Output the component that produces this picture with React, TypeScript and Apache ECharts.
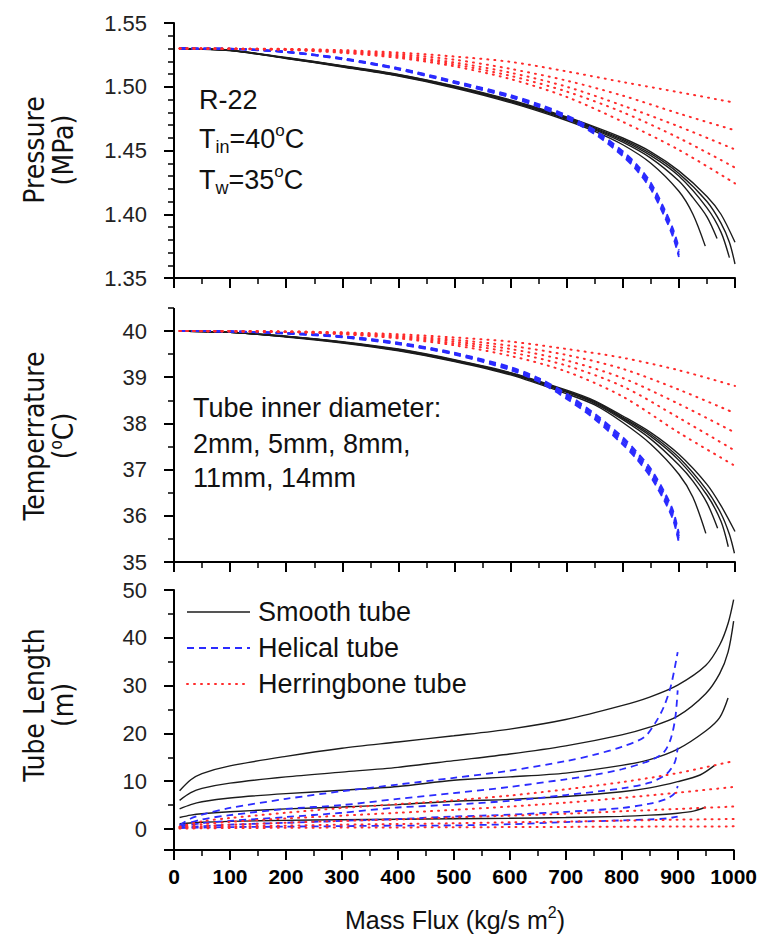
import React, { useEffect, useRef } from "react";
import * as echarts from "echarts";

type Pt = [number, number];

// ---------- Pressure (MPa) ----------
const smoothPressure1: Pt[] = [[10,1.530],[100,1.5283],[200,1.5222],[300,1.5155],[400,1.5083],[500,1.4990],[600,1.4875],[700,1.4735],[750,1.4650],[800,1.4545],[850,1.4400],[900,1.4180],[925,1.4000],[947,1.3750]];
const smoothPressure2: Pt[] = [[10,1.530],[100,1.5284],[200,1.5224],[300,1.5158],[400,1.5087],[500,1.4995],[600,1.4882],[700,1.4745],[750,1.4662],[800,1.4565],[850,1.4440],[900,1.4260],[925,1.4130],[950,1.3980],[968,1.3810]];
const smoothPressure3: Pt[] = [[10,1.530],[100,1.5285],[200,1.5226],[300,1.5161],[400,1.5091],[500,1.4999],[600,1.4887],[700,1.4752],[750,1.4670],[800,1.4578],[850,1.4460],[900,1.4300],[950,1.4050],[975,1.3860],[990,1.3660]];
const smoothPressure4: Pt[] = [[10,1.530],[100,1.5286],[200,1.5227],[300,1.5163],[400,1.5094],[500,1.5002],[600,1.4891],[700,1.4757],[750,1.4677],[800,1.4588],[850,1.4475],[900,1.4320],[950,1.4100],[975,1.3930],[990,1.3780],[1000,1.3610]];
const smoothPressure5: Pt[] = [[10,1.530],[100,1.5287],[200,1.5229],[300,1.5166],[400,1.5097],[500,1.5006],[600,1.4896],[700,1.4763],[750,1.4685],[800,1.4598],[850,1.4490],[900,1.4340],[950,1.4140],[975,1.4000],[1000,1.3780]];

const helicalPressure1: Pt[] = [[10,1.530],[100,1.5297],[200,1.5272],[300,1.5218],[400,1.5138],[500,1.5032],[600,1.4920],[650,1.4847],[700,1.4757],[750,1.4637],[800,1.4465],[825,1.4355],[850,1.4210],[875,1.3990],[890,1.3830],[900,1.3680]];
const helicalPressure2: Pt[] = [[10,1.530],[100,1.5296],[200,1.5270],[300,1.5215],[400,1.5135],[500,1.5029],[600,1.4916],[650,1.4842],[700,1.4750],[750,1.4628],[800,1.4455],[825,1.4343],[850,1.4195],[875,1.3975],[890,1.3815],[900,1.3665]];
const helicalPressure3: Pt[] = [[10,1.530],[100,1.5297],[200,1.5273],[300,1.5220],[400,1.5141],[500,1.5036],[600,1.4925],[650,1.4852],[700,1.4763],[750,1.4645],[800,1.4475],[825,1.4366],[850,1.4222],[875,1.4005],[890,1.3848],[900,1.3700]];
const helicalPressure4: Pt[] = [[10,1.530],[100,1.5298],[200,1.5274],[300,1.5222],[400,1.5144],[500,1.5040],[600,1.4930],[650,1.4858],[700,1.4770],[750,1.4653],[800,1.4485],[825,1.4378],[850,1.4235],[875,1.4020],[890,1.3865],[900,1.3720]];
const helicalPressure5: Pt[] = [[10,1.530],[100,1.5298],[200,1.5275],[300,1.5224],[400,1.5147],[500,1.5044],[600,1.4935],[650,1.4864],[700,1.4777],[750,1.4661],[800,1.4495],[825,1.4390],[850,1.4248],[875,1.4035],[890,1.3880],[900,1.3740]];

const herringPressure1: Pt[] = [[10,1.5300],[200,1.5297],[300,1.5287],[400,1.5268],[500,1.5237],[600,1.5195],[700,1.5120],[800,1.5037],[900,1.4957],[1000,1.4875]];
const herringPressure2: Pt[] = [[10,1.5300],[200,1.5295],[300,1.5281],[400,1.5256],[500,1.5212],[600,1.5140],[700,1.5048],[800,1.4930],[900,1.4790],[1000,1.4658]];
const herringPressure3: Pt[] = [[10,1.5300],[200,1.5293],[300,1.5276],[400,1.5245],[500,1.5190],[600,1.5110],[700,1.5000],[800,1.4852],[900,1.4688],[1000,1.4508]];
const herringPressure4: Pt[] = [[10,1.5300],[200,1.5291],[300,1.5271],[400,1.5236],[500,1.5175],[600,1.5085],[700,1.4962],[800,1.4800],[900,1.4598],[1000,1.4366]];
const herringPressure5: Pt[] = [[10,1.5300],[200,1.5289],[300,1.5266],[400,1.5226],[500,1.5160],[600,1.5060],[700,1.4920],[800,1.4725],[900,1.4505],[1000,1.4242]];

// ---------- Temperature (°C) ----------
const smoothTemp1: Pt[] = [[10,40.00],[100,39.97],[200,39.87],[300,39.74],[400,39.57],[500,39.34],[600,39.05],[700,38.64],[750,38.40],[800,38.02],[850,37.55],[900,36.90],[925,36.40],[948,35.62]];
const smoothTemp2: Pt[] = [[10,40.00],[100,39.97],[200,39.88],[300,39.75],[400,39.58],[500,39.35],[600,39.07],[700,38.67],[750,38.43],[800,38.08],[850,37.66],[900,37.10],[925,36.75],[950,36.28],[969,35.73]];
const smoothTemp3: Pt[] = [[10,40.00],[100,39.97],[200,39.88],[300,39.76],[400,39.59],[500,39.36],[600,39.08],[700,38.69],[750,38.45],[800,38.11],[850,37.72],[900,37.20],[950,36.45],[975,35.88],[988,35.33]];
const smoothTemp4: Pt[] = [[10,40.00],[100,39.97],[200,39.88],[300,39.76],[400,39.60],[500,39.37],[600,39.09],[700,38.70],[750,38.47],[800,38.13],[850,37.76],[900,37.26],[950,36.55],[975,36.05],[990,35.60],[999,35.19]];
const smoothTemp5: Pt[] = [[10,40.00],[100,39.97],[200,39.89],[300,39.77],[400,39.61],[500,39.38],[600,39.10],[700,38.72],[750,38.49],[800,38.16],[850,37.80],[900,37.33],[950,36.68],[975,36.22],[1000,35.66]];

const helicalTemp1: Pt[] = [[10,40.00],[100,39.99],[200,39.95],[300,39.87],[400,39.72],[500,39.50],[600,39.17],[650,38.92],[700,38.56],[750,38.12],[800,37.58],[825,37.26],[850,36.88],[875,36.35],[890,35.95],[900,35.45]];
const helicalTemp2: Pt[] = [[10,40.00],[100,39.99],[200,39.94],[300,39.86],[400,39.71],[500,39.49],[600,39.15],[650,38.90],[700,38.53],[750,38.09],[800,37.54],[825,37.22],[850,36.83],[875,36.30],[890,35.90],[900,35.42]];
const helicalTemp3: Pt[] = [[10,40.00],[100,39.99],[200,39.95],[300,39.88],[400,39.73],[500,39.51],[600,39.19],[650,38.94],[700,38.59],[750,38.15],[800,37.62],[825,37.30],[850,36.93],[875,36.40],[890,36.00],[900,35.50]];
const helicalTemp4: Pt[] = [[10,40.00],[100,39.99],[200,39.95],[300,39.88],[400,39.74],[500,39.52],[600,39.20],[650,38.96],[700,38.61],[750,38.18],[800,37.66],[825,37.34],[850,36.97],[875,36.45],[890,36.05],[900,35.56]];
const helicalTemp5: Pt[] = [[10,40.00],[100,39.99],[200,39.96],[300,39.89],[400,39.75],[500,39.53],[600,39.22],[650,38.98],[700,38.64],[750,38.21],[800,37.70],[825,37.38],[850,37.02],[875,36.50],[890,36.10],[900,35.62]];

const herringTemp1: Pt[] = [[10,40.00],[200,39.99],[300,39.97],[400,39.93],[500,39.86],[600,39.77],[700,39.61],[800,39.42],[900,39.15],[1000,38.81]];
const herringTemp2: Pt[] = [[10,40.00],[200,39.99],[300,39.96],[400,39.90],[500,39.81],[600,39.68],[700,39.48],[800,39.18],[900,38.73],[1000,38.22]];
const herringTemp3: Pt[] = [[10,40.00],[200,39.98],[300,39.95],[400,39.88],[500,39.77],[600,39.61],[700,39.36],[800,38.98],[900,38.42],[1000,37.80]];
const herringTemp4: Pt[] = [[10,40.00],[200,39.98],[300,39.94],[400,39.86],[500,39.73],[600,39.54],[700,39.25],[800,38.80],[900,38.12],[1000,37.41]];
const herringTemp5: Pt[] = [[10,40.00],[200,39.98],[300,39.93],[400,39.84],[500,39.69],[600,39.46],[700,39.12],[800,38.58],[900,37.80],[1000,37.08]];

// ---------- Tube length (m) ----------
const smoothLength1: Pt[] = [[10,8.0],[30,10.3],[50,11.6],[100,13.2],[200,15.2],[300,16.9],[400,18.2],[500,19.5],[600,20.9],[700,22.9],[800,25.8],[850,27.6],[900,30.1],[950,34.2],[975,38.5],[990,43.0],[1000,48.0]];
const smoothLength2: Pt[] = [[10,6.0],[30,7.6],[50,8.5],[100,9.6],[200,10.9],[300,11.9],[400,12.9],[500,14.3],[600,15.7],[700,17.4],[800,19.7],[850,21.3],[900,23.6],[950,28.3],[975,32.5],[990,37.0],[1000,43.5]];
const smoothLength3: Pt[] = [[10,4.2],[30,5.1],[50,5.7],[100,6.5],[200,7.4],[300,8.1],[400,8.9],[500,10.2],[600,10.9],[700,11.7],[800,13.3],[850,14.5],[900,16.7],[950,20.5],[975,23.3],[990,27.4]];
const smoothLength4: Pt[] = [[10,2.4],[30,2.9],[50,3.2],[100,3.6],[200,4.2],[300,4.6],[400,5.1],[500,5.8],[600,6.2],[700,6.8],[800,7.8],[850,8.6],[900,9.9],[940,11.3],[966,13.3]];
const smoothLength5: Pt[] = [[10,1.1],[50,1.4],[100,1.6],[200,1.8],[300,1.95],[400,2.05],[500,2.15],[600,2.25],[700,2.4],[800,2.65],[850,2.9],[900,3.3],[930,3.8],[950,4.6]];

const helicalLength1: Pt[] = [[10,0.8],[30,2.2],[50,3.0],[100,4.4],[200,6.3],[300,7.9],[400,9.3],[500,10.7],[600,12.2],[700,14.2],[750,15.5],[800,17.2],[840,19.2],[860,22.2],[875,25.5],[888,30.0],[900,37.0]];
const helicalLength2: Pt[] = [[10,0.6],[50,2.0],[100,2.9],[200,4.2],[300,5.0],[400,6.3],[500,7.5],[600,8.8],[700,10.4],[750,11.3],[800,12.5],[850,14.3],[875,16.0],[888,19.0],[896,23.5],[900,29.0]];
const helicalLength3: Pt[] = [[10,0.5],[50,1.2],[100,1.7],[200,2.5],[300,3.4],[400,4.5],[500,5.1],[600,5.9],[700,7.1],[800,8.5],[850,9.7],[880,11.5],[895,14.0],[900,17.0]];
const helicalLength4: Pt[] = [[10,0.3],[100,0.9],[200,1.3],[300,1.7],[400,2.1],[500,2.6],[600,3.0],[700,3.6],[800,4.4],[850,5.3],[880,6.3],[895,7.5],[900,9.0]];
const helicalLength5: Pt[] = [[10,0.2],[100,0.4],[200,0.5],[300,0.6],[400,0.7],[500,0.75],[600,1.0],[700,1.45],[800,1.8],[850,2.0],[880,2.2],[900,2.6]];

const herringLength1: Pt[] = [[10,0.5],[50,1.6],[100,2.3],[200,3.4],[300,4.4],[400,5.2],[500,6.0],[600,7.0],[700,8.3],[800,9.8],[900,11.7],[1000,14.2]];
const herringLength2: Pt[] = [[10,0.4],[50,1.0],[100,1.5],[200,2.2],[300,2.8],[400,3.4],[500,4.0],[600,4.7],[700,5.5],[800,6.5],[900,7.6],[1000,8.8]];
const herringLength3: Pt[] = [[10,0.3],[50,0.6],[100,0.9],[200,1.3],[300,1.7],[400,2.0],[500,2.4],[600,2.8],[700,3.2],[800,3.7],[900,4.2],[1000,4.7]];
const herringLength4: Pt[] = [[10,0.2],[100,0.5],[200,0.7],[300,0.9],[400,1.05],[500,1.2],[600,1.4],[700,1.55],[800,1.75],[900,1.95],[1000,2.1]];
const herringLength5: Pt[] = [[10,0.1],[100,0.2],[200,0.25],[300,0.3],[400,0.33],[500,0.36],[600,0.4],[700,0.44],[800,0.48],[900,0.52],[1000,0.55]];

const smoothSets = [
  [smoothPressure1, smoothPressure2, smoothPressure3, smoothPressure4, smoothPressure5],
  [smoothTemp1, smoothTemp2, smoothTemp3, smoothTemp4, smoothTemp5],
  [smoothLength1, smoothLength2, smoothLength3, smoothLength4, smoothLength5],
];
const helicalSets = [
  [helicalPressure1, helicalPressure2, helicalPressure3, helicalPressure4, helicalPressure5],
  [helicalTemp1, helicalTemp2, helicalTemp3, helicalTemp4, helicalTemp5],
  [helicalLength1, helicalLength2, helicalLength3, helicalLength4, helicalLength5],
];
const herringSets = [
  [herringPressure1, herringPressure2, herringPressure3, herringPressure4, herringPressure5],
  [herringTemp1, herringTemp2, herringTemp3, herringTemp4, herringTemp5],
  [herringLength1, herringLength2, herringLength3, herringLength4, herringLength5],
];

const legendNames = ["Smooth tube", "Helical tube", "Herringbone tube"];
const annotationTop = ["R-22", "T{sub|in}=40{sup|o}C", "T{sub|w}=35{sup|o}C"];
const annotationMid = ["Tube inner diameter:", "2mm, 5mm, 8mm,", "11mm, 14mm"];

const BLACK = "#1c1c1c";
const BLUE = "#2b2bff";
const RED = "#ff2b2b";
const FONT = '"Liberation Sans", Arial, Helvetica, sans-serif';
const NARROW = '"Liberation Sans Narrow", "DejaVu Sans Condensed", "Liberation Sans", sans-serif';

const L = 174, W = 561;
const grids = [
  { left: L, top: 23, width: W, height: 255 },
  { left: L, top: 331, width: W, height: 231 },
  { left: L, top: 590, width: W, height: 239 },
];

function styleFor(kind: string) {
  if (kind === "s") return { color: BLACK, width: 1.4, type: "solid" };
  if (kind === "h") return { color: BLUE, width: 1.8, type: [7, 5] };
  return { color: RED, width: 2, type: [1, 6], cap: "round" };
}

function mkSeries(data: Pt[], gi: number, kind: string, name: string, z: number) {
  return {
    type: "line",
    name,
    xAxisIndex: gi,
    yAxisIndex: gi,
    data,
    showSymbol: false,
    symbol: "none",
    smooth: 0.3,
    silent: true,
    z,
    lineStyle: styleFor(kind),
  };
}

function txt(x: number, y: number, text: string, size: number, extra: any = {}) {
  return {
    type: "text",
    x,
    y,
    silent: true,
    style: {
      text,
      fontSize: size,
      fontFamily: FONT,
      fill: "#111",
      textAlign: "left",
      textVerticalAlign: "middle",
      ...extra,
    },
  };
}

const richSubSup = {
  sub: { fontSize: 18, fontFamily: FONT, fill: "#111", verticalAlign: "bottom", lineHeight: 16 },
  sup: { fontSize: 17, fontFamily: FONT, fill: "#111", verticalAlign: "top", lineHeight: 16 },
};

export default function App() {
  const ref = useRef<HTMLDivElement>(null);
  useEffect(() => {
    if (!ref.current) return;
    const chart = echarts.init(ref.current, undefined, { renderer: "svg" });

    const series: any[] = [];
    for (let gi = 0; gi < 3; gi++) {
      smoothSets[gi].forEach((d, i) => series.push(mkSeries(d, gi, "s", legendNames[0] + " " + (i + 1), 2)));
      helicalSets[gi].forEach((d, i) => series.push(mkSeries(d, gi, "h", legendNames[1] + " " + (i + 1), 3)));
      herringSets[gi].forEach((d, i) => series.push(mkSeries(d, gi, "r", legendNames[2] + " " + (i + 1), 4)));
    }

    const axisLine = { show: true, onZero: false, lineStyle: { color: "#000", width: 2 } };
    const axisTick = { show: true, inside: false, length: 10, lineStyle: { color: "#000", width: 2 } };
    const minorTickFor = (n: number) => ({ show: true, splitNumber: n, length: 6, lineStyle: { color: "#000", width: 1.5 } });

    const xAxis = [0, 1, 2].map((gi) => ({
      type: "value",
      gridIndex: gi,
      min: 0,
      max: 1000,
      interval: 100,
      offset: gi === 2 ? 21 : 0,
      axisLine,
      axisTick,
      minorTick: minorTickFor(2),
      splitLine: { show: false },
      axisLabel: {
        show: gi === 2,
        margin: 16,
        fontSize: 21,
        fontWeight: "bold",
        fontFamily: FONT,
        color: "#000",
        formatter: (v: number) => String(v),
      },
    }));

    const yLabel = { margin: 27, fontSize: 22, fontFamily: FONT, color: "#222" };
    const yAxis = [
      {
        type: "value", gridIndex: 0, min: 1.35, max: 1.55, interval: 0.05,
        axisLine, axisTick, minorTick: minorTickFor(5), splitLine: { show: false },
        axisLabel: { ...yLabel, formatter: (v: number) => v.toFixed(2) },
      },
      {
        type: "value", gridIndex: 1, min: 35, max: 40, interval: 1,
        axisLine, axisTick, minorTick: minorTickFor(2), splitLine: { show: false },
        axisLabel: { ...yLabel, formatter: (v: number) => String(v) },
      },
      {
        type: "value", gridIndex: 2, min: 0, max: 50, interval: 10,
        axisLine, axisTick, minorTick: minorTickFor(2), splitLine: { show: false },
        axisLabel: { ...yLabel, formatter: (v: number) => String(v) },
      },
    ];

    const midTop = grids[1].top;
    const botBottom = grids[2].top + grids[2].height;
    const graphic: any[] = [
      // axis line extensions (middle panel top, bottom panel below zero)
      { type: "line", silent: true, shape: { x1: L, y1: 308, x2: L, y2: midTop }, style: { stroke: "#000", lineWidth: 2 } },
      { type: "line", silent: true, shape: { x1: L - 6, y1: 308, x2: L, y2: 308 }, style: { stroke: "#000", lineWidth: 1.5 } },
      { type: "line", silent: true, shape: { x1: L, y1: botBottom, x2: L, y2: botBottom + 21 }, style: { stroke: "#000", lineWidth: 2 } },
      { type: "line", silent: true, shape: { x1: L - 10, y1: botBottom + 21, x2: L, y2: botBottom + 21 }, style: { stroke: "#000", lineWidth: 2 } },

      // top panel annotation
      txt(199, 100, annotationTop[0], 27),
      txt(199, 139, annotationTop[1], 27, { rich: richSubSup, lineHeight: 34 }),
      txt(199, 180, annotationTop[2], 27, { rich: richSubSup, lineHeight: 34 }),

      // middle panel annotation
      txt(193, 408, annotationMid[0], 27),
      txt(193, 444, annotationMid[1], 27),
      txt(193, 478, annotationMid[2], 27),

      // legend
      { type: "line", silent: true, shape: { x1: 187, y1: 612, x2: 250, y2: 612 }, style: { stroke: BLACK, lineWidth: 1.4 } },
      { type: "line", silent: true, shape: { x1: 187, y1: 648, x2: 250, y2: 648 }, style: { stroke: BLUE, lineWidth: 1.8, lineDash: [7, 5] } },
      { type: "line", silent: true, shape: { x1: 187, y1: 684, x2: 250, y2: 684 }, style: { stroke: RED, lineWidth: 2, lineDash: [1, 6], lineCap: "round" } },
      txt(258, 612, legendNames[0], 27),
      txt(258, 648, legendNames[1], 27),
      txt(258, 684, legendNames[2], 27),

      // y-axis titles (rotated)
      { type: "text", x: 34, y: 150, rotation: Math.PI / 2, silent: true, style: { text: "Pressure", fontSize: 28, fontFamily: NARROW, fill: "#111", textAlign: "center", textVerticalAlign: "middle" } },
      { type: "text", x: 63, y: 150, rotation: Math.PI / 2, silent: true, style: { text: "(MPa)", fontSize: 28, fontFamily: NARROW, fill: "#111", textAlign: "center", textVerticalAlign: "middle" } },
      { type: "text", x: 34, y: 436, rotation: Math.PI / 2, silent: true, style: { text: "Temperrature", fontSize: 28, fontFamily: NARROW, fill: "#111", textAlign: "center", textVerticalAlign: "middle" } },
      { type: "text", x: 63, y: 436, rotation: Math.PI / 2, silent: true, style: { text: "({sup|o}C)", fontSize: 28, fontFamily: NARROW, fill: "#111", textAlign: "center", textVerticalAlign: "middle", lineHeight: 32, rich: { sup: { fontSize: 17, fontFamily: NARROW, fill: "#111", verticalAlign: "top", lineHeight: 16 } } } },
      { type: "text", x: 34, y: 705, rotation: Math.PI / 2, silent: true, style: { text: "Tube Length", fontSize: 28, fontFamily: NARROW, fill: "#111", textAlign: "center", textVerticalAlign: "middle" } },
      { type: "text", x: 63, y: 705, rotation: Math.PI / 2, silent: true, style: { text: "(m)", fontSize: 28, fontFamily: NARROW, fill: "#111", textAlign: "center", textVerticalAlign: "middle" } },

      // x-axis title
      { type: "text", x: 455, y: 920, silent: true, style: { text: "Mass Flux (kg/s m{sup|2})", fontSize: 25, fontFamily: FONT, fill: "#111", textAlign: "center", textVerticalAlign: "middle", lineHeight: 32, rich: { sup: { fontSize: 16, fontFamily: FONT, fill: "#111", verticalAlign: "top", lineHeight: 14 } } } },
    ];

    chart.setOption({
      animation: false,
      backgroundColor: "#fff",
      grid: grids,
      xAxis,
      yAxis,
      series,
      graphic,
    });
    return () => chart.dispose();
  }, []);
  return <div ref={ref} style={{ position: "fixed", left: 0, top: 0, width: 760, height: 948 }} />;
}
